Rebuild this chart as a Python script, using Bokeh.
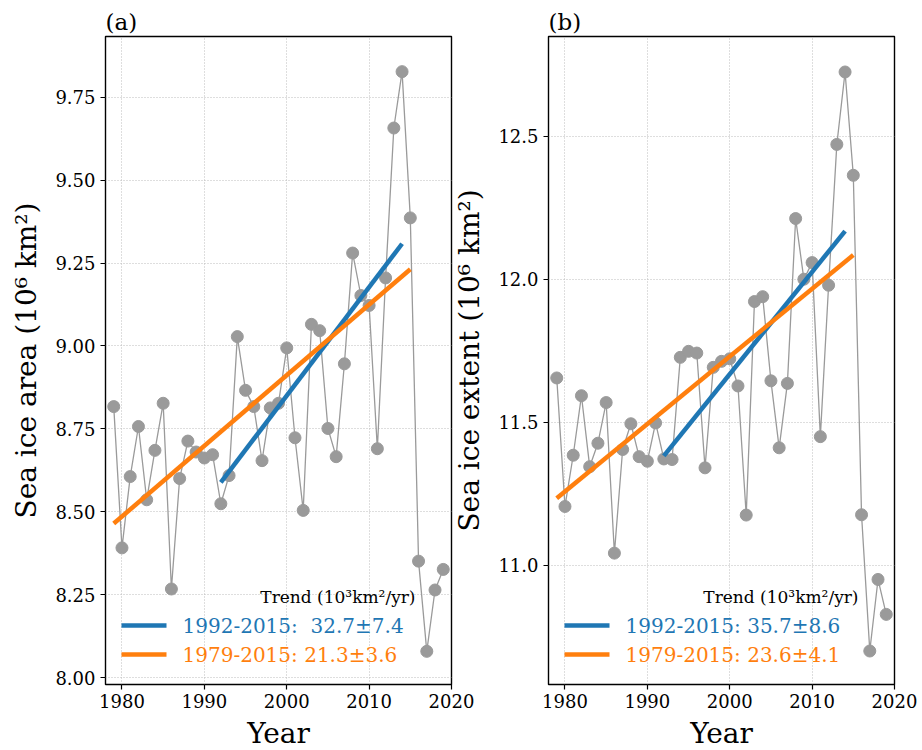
import numpy as np
from bokeh.plotting import figure
from bokeh.layouts import row
from bokeh.models import (Range1d, FixedTicker, BoxAnnotation, Label,
                          NumeralTickFormatter)
from bokeh.embed import file_html
from bokeh.resources import INLINE

# Annual sea ice series, 1979-2019 (10^6 km^2)
years = list(range(1979, 2020))
sea_ice_area = [
    8.817, 8.391, 8.606, 8.757, 8.536, 8.685, 8.827, 8.267, 8.600, 8.713,
    8.680, 8.662, 8.672, 8.524, 8.609, 9.028, 8.866, 8.817, 8.654, 8.813,
    8.827, 8.994, 8.723, 8.504, 9.065, 9.046, 8.751, 8.666, 8.946, 9.280,
    9.152, 9.122, 8.690, 9.205, 9.657, 9.827, 9.386, 8.351, 8.079, 8.264,
    8.326,
]
sea_ice_extent = [
    11.655, 11.206, 11.385, 11.593, 11.345, 11.427, 11.569, 11.043, 11.405, 11.495,
    11.380, 11.364, 11.498, 11.372, 11.370, 11.727, 11.748, 11.742, 11.341, 11.692,
    11.713, 11.722, 11.627, 11.176, 11.922, 11.939, 11.645, 11.411, 11.636, 12.212,
    12.000, 12.058, 11.450, 11.979, 12.471, 12.724, 12.363, 11.177, 10.701, 10.951,
    10.829,
]

# Trend periods and rates (10^3 km^2 / yr) with their uncertainties
trend_periods = [(1992, 2015), (1979, 2015)]
area_trends = [32.7, 21.3]
area_errors = [7.4, 3.6]
extent_trends = [35.7, 23.6]
extent_errors = [8.6, 4.1]
trend_colors = ["#1f77b4", "#ff7f0e"]
trend_labels_area = ["1992-2015:\u00a0\u00a032.7\u00b17.4", "1979-2015: 21.3\u00b13.6"]
trend_labels_extent = ["1992-2015: 35.7\u00b18.6", "1979-2015: 23.6\u00b14.1"]

x_ticks = [1980, 1990, 2000, 2010, 2020]
area_ticks = [8.00, 8.25, 8.50, 8.75, 9.00, 9.25, 9.50, 9.75]
extent_ticks = [11.0, 11.5, 12.0, 12.5]

SERIF = "DejaVu Serif"


def trend_line(yrs, vals, start, end, rate):
    """Least-squares line with a fixed slope through the period's mean."""
    yrs = np.asarray(yrs)
    vals = np.asarray(vals)
    sel = (yrs >= start) & (yrs <= end)
    slope = rate / 1000.0
    intercept = vals[sel].mean() - slope * yrs[sel].mean()
    # the 1992 trend is plotted up to the year before the period end
    last = end if start == 1979 else end - 1
    xs = np.array([start, last])
    return xs, intercept + slope * xs


def make_panel(title, ylabel, values, y_range, yticks, yfmt, rates, labels,
               border_left, border_right):
    p = figure(frame_width=346, frame_height=648,
               min_border_left=border_left, min_border_right=border_right,
               min_border_top=36, min_border_bottom=66,
               x_range=Range1d(1978, 2020), y_range=Range1d(*y_range),
               output_backend="svg", toolbar_location=None)
    p.title.text = title
    p.title.align = "left"
    p.title.text_font = SERIF
    p.title.text_font_size = "23px"
    p.title.text_font_style = "normal"
    p.title.text_color = "black"
    p.title.standoff = 4

    p.outline_line_color = "black"
    p.outline_line_width = 1.4
    p.outline_line_alpha = 1.0

    p.xaxis.ticker = FixedTicker(ticks=x_ticks)
    p.yaxis.ticker = FixedTicker(ticks=yticks)
    p.yaxis.formatter = NumeralTickFormatter(format=yfmt)
    for ax in (p.xaxis, p.yaxis):
        ax.axis_line_color = None
        ax.major_tick_out = 5
        ax.major_tick_in = 0
        ax.major_tick_line_color = "black"
        ax.major_tick_line_width = 1.2
        ax.minor_tick_line_color = None
        ax.major_label_text_font = SERIF
        ax.major_label_text_font_size = "18px"
        ax.major_label_text_color = "black"
        ax.axis_label_text_font = SERIF
        ax.axis_label_text_font_size = "28px"
        ax.axis_label_text_font_style = "normal"
        ax.axis_label_text_color = "black"
    p.xaxis.axis_label = "Year"
    p.yaxis.axis_label = ylabel
    p.xaxis.major_label_standoff = 4
    p.yaxis.major_label_standoff = 5
    p.xaxis.axis_label_standoff = 6
    p.yaxis.axis_label_standoff = 9

    for g in (p.xgrid, p.ygrid):
        g.grid_line_color = "#bdbdbd"
        g.grid_line_dash = "1 2"
        g.grid_line_width = 1

    # annual series
    p.line(years, values, line_color="#9a9a9a", line_width=1.3)
    p.scatter(years, values, size=12, fill_color="#9a9a9a",
              line_color="#9a9a9a")

    # trend lines
    for (start, end), rate, color in zip(trend_periods, rates, trend_colors):
        xs, ys = trend_line(years, values, start, end, rate)
        p.line(xs, ys, line_color=color, line_width=4.5)

    # trend key in the lower part of the frame
    p.add_layout(Label(x=310, y=88, x_units="screen", y_units="screen",
                       text="Trend (10\u00b3km\u00b2/yr)", text_font=SERIF,
                       text_font_size="17px", text_color="black",
                       text_align="right", text_baseline="middle"))
    for i, (lab, color) in enumerate(zip(labels, trend_colors)):
        yc = 59 - 29 * i
        p.add_layout(BoxAnnotation(left=16, right=61, bottom=yc - 2.2,
                                   top=yc + 2.2, left_units="screen",
                                   right_units="screen", bottom_units="screen",
                                   top_units="screen", fill_color=color,
                                   fill_alpha=1.0, line_color=None))
        p.add_layout(Label(x=77, y=yc, x_units="screen", y_units="screen",
                           text=lab, text_font=SERIF, text_font_size="20px",
                           text_color=color, text_baseline="middle"))
    return p


p1 = make_panel("(a)", "Sea ice area (10\u2076 km\u00b2)", sea_ice_area,
                (7.979, 9.933), area_ticks, "0.00", area_trends,
                trend_labels_area, 105, 27)
p2 = make_panel("(b)", "Sea ice extent (10\u2076 km\u00b2)", sea_ice_extent,
                (10.584, 12.848), extent_ticks, "0.0", extent_trends,
                trend_labels_extent, 100, 28)
p2.border_fill_color = None
p2.background_fill_color = None
p2.margin = (0, 0, 0, -30)

layout = row(p1, p2)
open("out.html", "w").write(file_html(layout, INLINE))
